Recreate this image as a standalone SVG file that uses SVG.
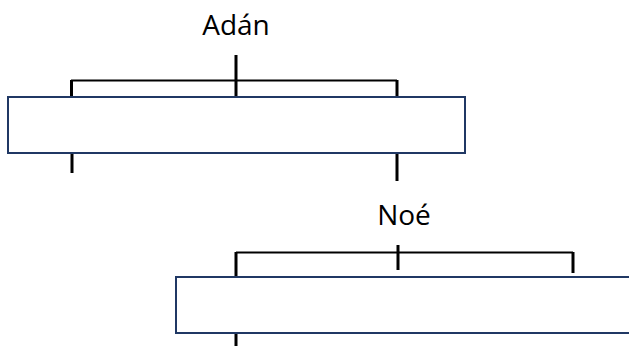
<svg xmlns="http://www.w3.org/2000/svg" width="629" height="346" viewBox="0 0 629 346">
<style>
.box{fill:#fff;stroke:#203864;stroke-width:2}
.ln{stroke:#000;stroke-width:2;fill:none}
.v{stroke:#000;stroke-width:3;fill:none}
.lbl{font-family:"Open Sans","DejaVu Sans",sans-serif;font-size:28px;fill:#000;text-anchor:middle}
</style>
<rect width="629" height="346" fill="#fff"/>
<g id="connectors">
<path class="ln" d="M71 80.5H397"/>
<path class="v" d="M236 55V97M71.5 80V97M397 80V97M72 153V173M397 153V181"/>
<path class="ln" d="M236 252.5H573"/>
<path class="v" d="M398 245V270M573 252V273M236 252V277M236 333V346"/>
</g>
<g id="adan">
<text class="lbl" x="236" y="35">Adán</text>
<rect class="box" x="8" y="97" width="457" height="56"/>
</g>
<g id="noe">
<text class="lbl" x="404" y="225">Noé</text>
<rect class="box" x="176" y="277" width="460" height="56"/>
</g>
</svg>
